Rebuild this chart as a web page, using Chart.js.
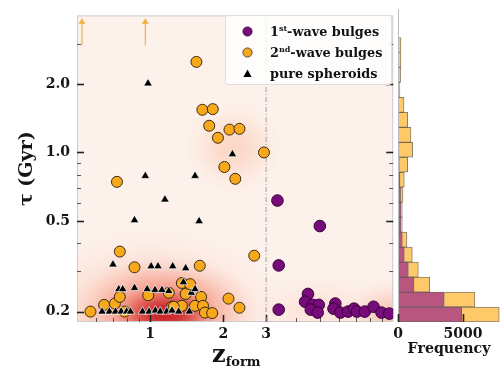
<!DOCTYPE html>
<html><head><meta charset="utf-8">
<script src="https://cdn.jsdelivr.net/npm/chart.js@4.4.0/dist/chart.umd.min.js"></script>
<style>
html,body{margin:0;padding:0;background:#fff;}
#wrap{position:relative;width:502px;height:368px;overflow:hidden;font-family:"DejaVu Serif",serif;color:#111;}
#main{position:absolute;left:0;top:0;}
#hist{position:absolute;left:380px;top:0;}
#legend{position:absolute;left:225px;top:15px;width:167px;height:70px;box-sizing:border-box;padding-top:5px;
  background:rgba(255,255,255,0.85);border:1px solid #dddddd;border-radius:3px;}
#legend .row{position:relative;height:21px;}
#legend .mk{position:absolute;left:16px;top:5px;width:11px;height:11px;}
#legend .tx{position:absolute;left:44px;top:0;line-height:21px;font-weight:bold;font-size:12.8px;white-space:nowrap;}
#legend sup{font-size:8px;vertical-align:5px;line-height:0;}
#xtitle{position:absolute;left:212px;top:339px;font-weight:bold;font-size:24px;line-height:30px;white-space:nowrap;}
#xtitle sub{font-size:13px;vertical-align:-4px;line-height:0;}
</style>
</head><body>
<div id="wrap">
  <canvas id="main" width="400" height="368"></canvas>
  <canvas id="hist" width="122" height="368"></canvas>
  <div id="legend"></div>
  <div id="xtitle">z<sub>form</sub></div>
</div>
<script>
// ---------------- data ----------------
const zRange = [0.5, 10];
const tauRange = [0.18, 4.0];

const seriesLabels = ['1st-wave bulges', '2nd-wave bulges', 'pure spheroids'];

const firstWaveZ   = [3.34, 4.99, 3.38, 3.38, 4.46, 4.34, 4.67, 4.94, 4.58, 4.89, 5.78, 5.68, 6.06, 6.52, 6.90, 7.09, 7.64, 8.30, 8.95, 9.64];
const firstWaveTau = [0.615, 0.475, 0.319, 0.204, 0.239, 0.221, 0.214, 0.214, 0.204, 0.198, 0.217, 0.206, 0.198, 0.200, 0.206, 0.200, 0.200, 0.210, 0.198, 0.196];

const secondWaveZ   = [1.55, 1.64, 1.81, 1.75, 1.90, 2.12, 2.33, 2.94, 2.02, 2.24, 0.73, 0.75, 0.862, 2.68, 1.60,
                       0.568, 0.646, 0.716, 0.75, 0.785, 0.982, 1.193, 1.35, 1.40, 1.46, 1.23, 1.35, 1.53, 1.62, 1.65,
                       1.68, 1.80, 1.25, 2.10, 2.33];
const secondWaveTau = [2.50, 1.54, 1.55, 1.31, 1.16, 1.26, 1.27, 1.00, 0.863, 0.766, 0.743, 0.367, 0.313, 0.352, 0.318,
                       0.200, 0.214, 0.217, 0.232, 0.200, 0.236, 0.242, 0.267, 0.239, 0.264, 0.210, 0.212, 0.212, 0.232, 0.212,
                       0.198, 0.197, 0.210, 0.228, 0.208];

const spheroidZ   = [0.98, 2.18, 0.955, 1.53, 1.15, 0.862, 1.59, 0.703, 1.009, 1.077, 1.238, 1.40, 1.37, 0.743, 0.771,
                     0.862, 0.972, 1.047, 1.118, 1.193, 1.477, 1.53,
                     0.634, 0.68, 0.72, 0.76, 0.80, 0.83, 0.93, 0.99, 1.05, 1.10, 1.17, 1.23, 1.31, 1.45];
const spheroidTau = [2.01, 0.982, 0.789, 0.789, 0.621, 0.504, 0.499, 0.322, 0.316, 0.316, 0.316, 0.310, 0.269, 0.251, 0.251,
                     0.254, 0.251, 0.249, 0.249, 0.246, 0.242, 0.251,
                     0.200, 0.200, 0.200, 0.200, 0.200, 0.200, 0.200, 0.200, 0.202, 0.200, 0.200, 0.202, 0.200, 0.200];

// lower limits (beyond the top of the plot)
const limitZ   = [0.524, 0.955];
const limitTau = [2.95, 2.95];

const zSplit = 3;   // dashed separator

const yTickValues = [0.2, 0.5, 1.0, 2.0];
const yMinorValues = [0.3, 0.4, 0.6, 0.7, 0.8, 0.9, 3];
const xTickValues = [1, 2, 3];
const xMinorValues = [0.6, 0.7, 0.8, 0.9, 4, 5, 6, 7, 8, 9];

// histogram of tau (log bins), bottom bin first
const histTauLo = 0.18, histTauHi = 3.03, histBins = 19;
const hist1st = [4900, 3560, 1230, 795, 485, 330, 230, 230, 200, 150, 100, 80, 60, 40, 20, 50, 60, 30, 30];
const hist2nd = [2890, 2360, 1210, 770, 615, 360, 100, 100, 185, 335, 645, 1050, 940, 705, 440, 100, 140, 200, 200];
const histMax = 7850;
const histTickValues = [0, 5000];

// background density field (log-space gaussian-like blobs)
const densityBlobs = [
  {z: 1.0,  tau: 0.20,  sx: 0.55, sy: 0.36, rgb: [248,160,130], a: 0.45},
  {z: 2.2,  tau: 1.05,  sx: 0.20, sy: 0.20, rgb: [248,175,140], a: 0.40},
  {z: 10,   tau: 0.19,  sx: 0.20, sy: 0.17, rgb: [245,140,110], a: 0.45},
  {z: 5.0,  tau: 0.20,  sx: 0.30, sy: 0.17, rgb: [248,185,160], a: 0.25},
  {z: 1.15, tau: 0.20,  sx: 0.38, sy: 0.24, rgb: [238,80,60],   a: 0.65},
  {z: 1.15, tau: 0.195, sx: 0.21, sy: 0.12, rgb: [190,15,25],   a: 0.85},
];

// ---------------- styles ----------------
const FONT = '"DejaVu Serif", serif';
const C_PURPLE = '#760b7a', C_ORANGE = '#f7a81b';

const zip = (xs, ys) => xs.map((v, i) => ({x: v, y: ys[i]}));

const mainMarks = {
  id: 'mainMarks',
  beforeDatasetsDraw(chart) {
    const {ctx, chartArea: a, scales: {x, y}} = chart;
    const w = a.right - a.left, h = a.bottom - a.top;
    ctx.save();
    ctx.fillStyle = 'rgb(253,241,235)';
    ctx.fillRect(a.left, a.top, w, h);
    ctx.beginPath(); ctx.rect(a.left, a.top, w, h); ctx.clip();
    for (const b of densityBlobs) {
      const cx = x.getPixelForValue(b.z), cy = y.getPixelForValue(b.tau);
      const rx = Math.abs(x.getPixelForValue(b.z * Math.pow(10, b.sx)) - cx);
      const ry = Math.abs(y.getPixelForValue(b.tau * Math.pow(10, b.sy)) - cy);
      ctx.save();
      ctx.translate(cx, cy); ctx.scale(rx, ry);
      const g = ctx.createRadialGradient(0, 0, 0, 0, 0, 1);
      const [r, gg, bb] = b.rgb;
      [[0,1],[0.3,0.82],[0.55,0.45],[0.8,0.14],[1,0]].forEach(([t, f]) =>
        g.addColorStop(t, `rgba(${r},${gg},${bb},${(b.a * f).toFixed(3)})`));
      ctx.fillStyle = g; ctx.fillRect(-1, -1, 2, 2);
      ctx.restore();
    }
    ctx.restore();

    ctx.save();
    ctx.strokeStyle = '#cccccc'; ctx.lineWidth = 1;
    ctx.strokeRect(a.left + 0.5, a.top + 0.5, w - 1, h - 1);
    const seg = (x0, y0, x1, y1, lw, col) => {
      ctx.beginPath(); ctx.lineWidth = lw; ctx.strokeStyle = col;
      ctx.moveTo(x0, y0); ctx.lineTo(x1, y1); ctx.stroke();
    };
    yTickValues.forEach(v => { const p = Math.round(y.getPixelForValue(v)) + 0.5;
      seg(a.left, p, a.left + 7, p, 1.6, '#222'); seg(a.right, p, a.right - 7, p, 1.6, '#222'); });
    yMinorValues.forEach(v => { const p = Math.round(y.getPixelForValue(v)) + 0.5;
      seg(a.left, p, a.left + 4, p, 1, '#555'); seg(a.right, p, a.right - 4, p, 1, '#555'); });
    xTickValues.forEach(v => { const p = Math.round(x.getPixelForValue(v)) + 0.5;
      seg(p, a.bottom, p, a.bottom - 7, 1.6, '#222'); });
    xMinorValues.forEach(v => { const p = Math.round(x.getPixelForValue(v)) + 0.5;
      seg(p, a.bottom, p, a.bottom - 4, 1, '#555'); });
    ctx.restore();
  },
  afterDatasetsDraw(chart) {
    const {ctx, chartArea: a, scales: {x, y}} = chart;
    ctx.save();
    limitZ.forEach((z, i) => {
      const px = x.getPixelForValue(z), y0 = y.getPixelForValue(limitTau[i]);
      const tip = a.top + 2.5;
      ctx.strokeStyle = '#f3b24a'; ctx.fillStyle = '#f3b24a'; ctx.lineWidth = 1.2;
      ctx.beginPath(); ctx.moveTo(px, y0); ctx.lineTo(px, tip + 5); ctx.stroke();
      ctx.beginPath(); ctx.moveTo(px, tip); ctx.lineTo(px - 3.5, tip + 6); ctx.lineTo(px + 3.5, tip + 6); ctx.closePath(); ctx.fill();
    });
    ctx.restore();
  }
};

new Chart(document.getElementById('main'), {
  type: 'scatter',
  data: {
    datasets: [
      {label: seriesLabels[2], data: zip(spheroidZ, spheroidTau), pointStyle: 'triangle', pointRadius: 5,
       backgroundColor: '#000', borderColor: 'rgba(255,255,255,0.9)', borderWidth: 0.8, order: 0},
      {label: seriesLabels[1], data: zip(secondWaveZ, secondWaveTau), pointStyle: 'circle', pointRadius: 5.5,
       backgroundColor: C_ORANGE, borderColor: '#3b2c14', borderWidth: 1, order: 1},
      {label: seriesLabels[0], data: zip(firstWaveZ, firstWaveTau), pointStyle: 'circle', pointRadius: 5.8,
       backgroundColor: C_PURPLE, borderColor: '#3a0040', borderWidth: 1, order: 2},
      {label: 'split', data: [{x: zSplit, y: tauRange[0]}, {x: zSplit, y: tauRange[1]}], showLine: true,
       borderColor: '#a0a0a0', borderWidth: 1, borderDash: [5, 2, 1, 2], pointRadius: 0, order: 5}
    ]
  },
  options: {
    responsive: false, animation: false, events: [],
    layout: {padding: {left: 0, right: 2, top: 9.5, bottom: 0}},
    plugins: {legend: {display: false}, tooltip: {enabled: false}},
    scales: {
      x: {type: 'logarithmic', min: zRange[0], max: zRange[1], bounds: 'data', offset: false,
          afterBuildTicks: s => { s.ticks = xTickValues.map(v => ({value: v})); },
          afterFit: s => { s.height = 46; },
          grid: {display: false, drawTicks: false, tickLength: 0}, border: {display: false},
          ticks: {callback: v => String(v), font: {family: FONT, size: 14, weight: 'bold'}, color: '#151515',
                  padding: 4, maxRotation: 0, autoSkip: false}},
      y: {type: 'logarithmic', min: tauRange[0], max: tauRange[1], bounds: 'data', offset: false,
          afterBuildTicks: s => { s.ticks = yTickValues.map(v => ({value: v})); },
          afterFit: s => { s.width = 77; },
          grid: {display: false, drawTicks: false, tickLength: 0}, border: {display: false},
          ticks: {callback: v => Number(v).toFixed(1), font: {family: FONT, size: 14, weight: 'bold'}, color: '#151515',
                  padding: 7, autoSkip: false},
          title: {display: true, text: 'τ (Gyr)', font: {family: FONT, size: 19, weight: 'bold'}, color: '#151515',
                  padding: {top: 16, bottom: 0}}}
    }
  },
  plugins: [mainMarks]
});

// ---------------- histogram ----------------
const lLo = Math.log10(histTauLo), lHi = Math.log10(histTauHi), dl = (lHi - lLo) / histBins;
const binCenters = hist1st.map((_, i) => lLo + (i + 0.5) * dl);

const histMarks = {
  id: 'histMarks',
  afterDatasetsDraw(chart) {
    const {ctx, chartArea: a, scales: {x}} = chart;
    ctx.save();
    ctx.strokeStyle = '#bbbbbb'; ctx.lineWidth = 1;
    ctx.beginPath(); ctx.moveTo(a.left + 0.5, a.top); ctx.lineTo(a.left + 0.5, a.bottom); ctx.stroke();
    histTickValues.forEach(v => { const p = Math.round(x.getPixelForValue(v)) + 0.5;
      ctx.beginPath(); ctx.strokeStyle = '#222'; ctx.lineWidth = 1.6;
      ctx.moveTo(p, a.bottom); ctx.lineTo(p, a.bottom - 8); ctx.stroke(); });
    ctx.restore();
  }
};

new Chart(document.getElementById('hist'), {
  type: 'bar',
  data: {
    datasets: [
      {label: seriesLabels[0], data: binCenters.map((c, i) => ({x: hist1st[i], y: c})),
       backgroundColor: 'rgb(185,86,127)', borderColor: 'rgba(70,30,40,0.7)', borderWidth: 1,
       barPercentage: 1, categoryPercentage: 1},
      {label: seriesLabels[1], data: binCenters.map((c, i) => ({x: hist2nd[i], y: c})),
       backgroundColor: 'rgb(254,201,104)', borderColor: 'rgba(90,70,40,0.7)', borderWidth: 1,
       barPercentage: 1, categoryPercentage: 1}
    ]
  },
  options: {
    indexAxis: 'y', responsive: false, animation: false, events: [],
    layout: {padding: {left: 18, right: 2, top: 9.5, bottom: 0}},
    plugins: {legend: {display: false}, tooltip: {enabled: false}},
    scales: {
      x: {type: 'linear', stacked: true, min: 0, max: histMax, offset: false,
          afterBuildTicks: s => { s.ticks = histTickValues.map(v => ({value: v})); },
          afterFit: s => { s.height = 46; },
          grid: {display: false, drawTicks: false, tickLength: 0}, border: {display: false},
          ticks: {font: {family: FONT, size: 14, weight: 'bold'}, color: '#151515', padding: 4, maxRotation: 0,
                  callback: v => String(v)},
          title: {display: true, text: 'Frequency', font: {family: FONT, size: 14.2, weight: 'bold'}, color: '#151515',
                  padding: {top: 0, bottom: 10}}},
      y: {type: 'linear', stacked: true, min: Math.log10(tauRange[0]), max: Math.log10(tauRange[1]),
          display: false, offset: false, grid: {offset: false},
          afterBuildTicks: s => { s.ticks = [{value: s.min}, {value: s.max}]; }}
    }
  },
  plugins: [histMarks]
});

// ---------------- legend (HTML, with superscripts) ----------------
const legendMarks = [
  `<svg class="mk" viewBox="0 0 11 11"><circle cx="5.5" cy="5.5" r="4.6" fill="${C_PURPLE}" stroke="#3a0040" stroke-width="0.8"/></svg>`,
  `<svg class="mk" viewBox="0 0 11 11"><circle cx="5.5" cy="5.5" r="4.6" fill="${C_ORANGE}" stroke="#3b2c14" stroke-width="0.8"/></svg>`,
  `<svg class="mk" viewBox="0 0 11 11"><polygon points="5.5,1.5 9.6,9 1.4,9" fill="#000"/></svg>`
];
document.getElementById('legend').innerHTML = seriesLabels.map((t, i) =>
  `<div class="row">${legendMarks[i]}<span class="tx">${t.replace(/^(\d)(st|nd|rd|th)/, '$1<sup>$2</sup>')}</span></div>`
).join('');
</script>
</body></html>
